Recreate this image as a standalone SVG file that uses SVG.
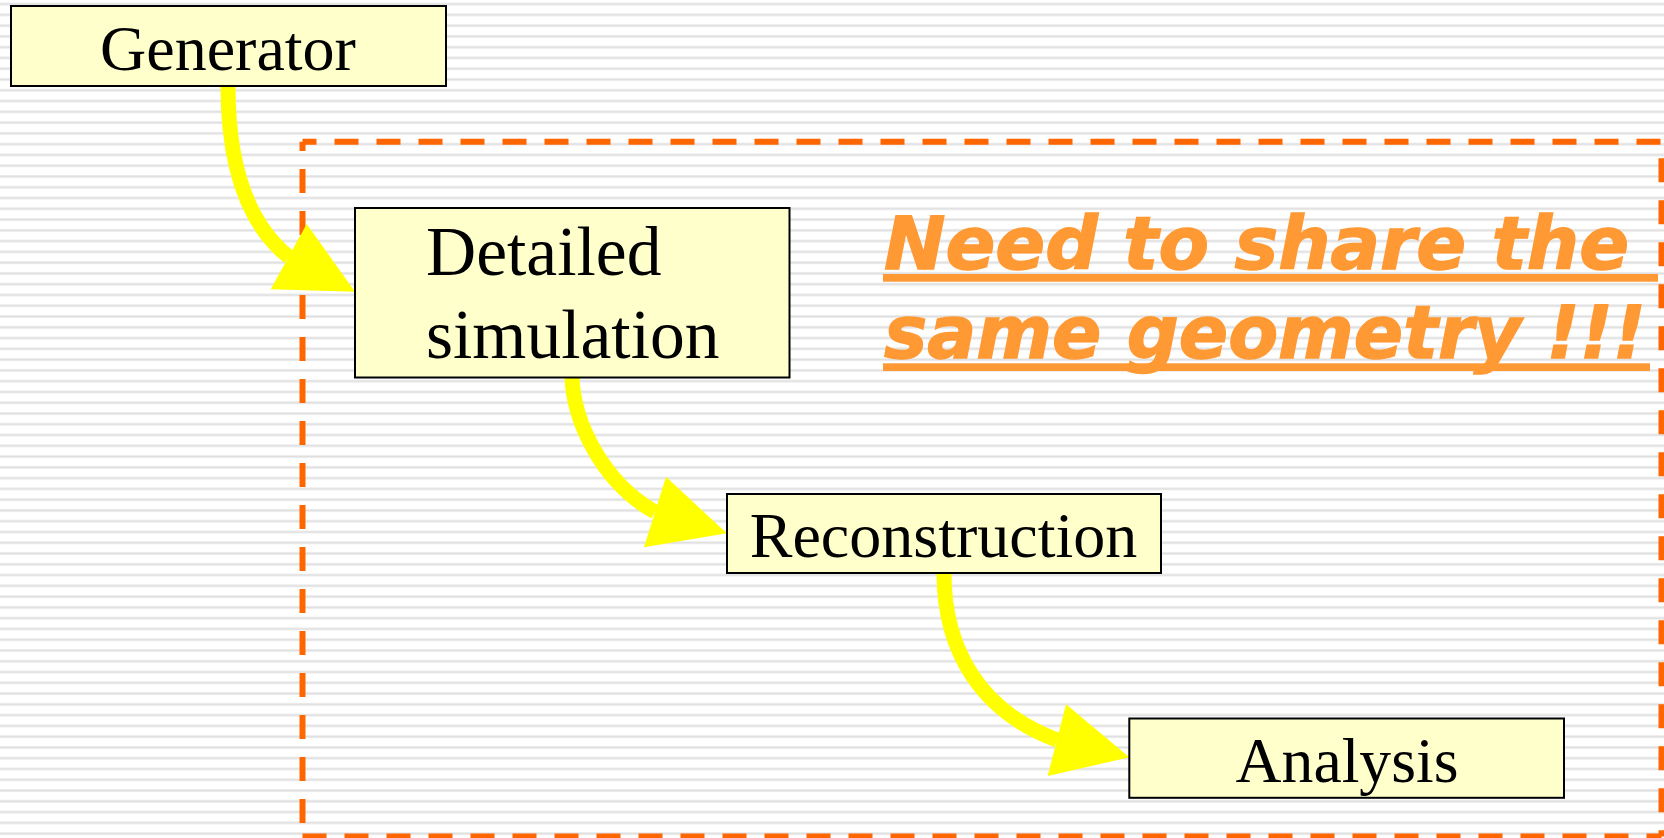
<svg xmlns="http://www.w3.org/2000/svg" width="1664" height="838" viewBox="0 0 1664 838">
  <defs>
    <!-- ruled background: thin grey horizontal lines -->
    <pattern id="ruled" patternUnits="userSpaceOnUse" x="0" y="2.6" width="16" height="10.773">
      <rect x="0" y="0" width="16" height="10.773" fill="#ffffff"/>
      <rect x="0" y="0" width="16" height="3" fill="#f0f0f0"/>
      <rect x="0" y="0.7" width="16" height="1.6" fill="#e0e0e0"/>
    </pattern>
    <style>
      .box { fill: #ffffcc; stroke: #000000; stroke-width: 2; }
      .label { font-family: "Liberation Serif", "Times New Roman", serif; fill: #000000; }
      .flow { fill: none; stroke: #ffff00; stroke-width: 15; }
      .head { fill: #ffff00; stroke: none; }
      .frame { stroke: #ff6600; stroke-width: 6; stroke-dasharray: 24 18; fill: none; }
      .note { font-family: "DejaVu Sans", Verdana, sans-serif; font-weight: bold; font-style: italic; fill: #ff9933; stroke: #ff9933; stroke-width: 1.4; font-size: 73px; }
      .uline { fill: #ff9933; }
    </style>
  </defs>

  <rect x="0" y="0" width="1664" height="838" fill="url(#ruled)"/>

  <!-- dashed region grouping the shared-geometry stages -->
  <g id="shared-region">
    <line class="frame" x1="302.5" y1="141.8" x2="1661.5" y2="141.8" stroke-dashoffset="10"/>
    <line class="frame" x1="1661.5" y1="141.8" x2="1661.5" y2="836.5" stroke-dashoffset="25.5"/>
    <line class="frame" x1="302.5" y1="836.5" x2="1661.5" y2="836.5" stroke-dashoffset="0"/>
    <line class="frame" x1="302.5" y1="141.8" x2="302.5" y2="836.5" stroke-dashoffset="14.8"/>
  </g>

  <!-- connectors -->
  <g id="connectors">
    <path class="flow" d="M228,86 C228,172 250,226 289,257"/>
    <polygon class="head" points="355,291.7 306.7,224 270.7,289.3"/>
    <path class="flow" d="M572,378 C574,422 602,482 655,512"/>
    <polygon class="head" points="726.7,533.3 666,476.7 644,547.3"/>
    <path class="flow" d="M944,573 C944,652 982,712 1057,740"/>
    <polygon class="head" points="1129.3,757.3 1066,704.3 1047.7,776"/>
  </g>

  <g id="generator">
    <rect class="box" x="11" y="6" width="435" height="80"/>
    <text class="label" x="228" y="70" font-size="64" text-anchor="middle">Generator</text>
  </g>

  <g id="detailed-simulation">
    <rect class="box" x="355" y="208" width="434.5" height="169.5"/>
    <text class="label" x="426" y="275" font-size="69.5">Detailed</text>
    <text class="label" x="426" y="358" font-size="69.5">simulation</text>
  </g>

  <g id="reconstruction">
    <rect class="box" x="727" y="494" width="434" height="79"/>
    <text class="label" x="943.5" y="556.7" font-size="64" text-anchor="middle">Reconstruction</text>
  </g>

  <g id="analysis">
    <rect class="box" x="1129.3" y="718.5" width="434.7" height="79.3"/>
    <text class="label" x="1347" y="781.7" font-size="63.7" text-anchor="middle">Analysis</text>
  </g>

  <g id="shared-geometry-note">
    <text class="note" x="884" y="269.3" textLength="745" lengthAdjust="spacingAndGlyphs">Need to share the</text>
    <rect class="uline" x="883" y="274" width="775" height="7.7"/>
    <text class="note" x="884" y="358.3" textLength="762" lengthAdjust="spacingAndGlyphs">same geometry !!!</text>
    <rect class="uline" x="883" y="363.3" width="767" height="7.7"/>
  </g>
</svg>
